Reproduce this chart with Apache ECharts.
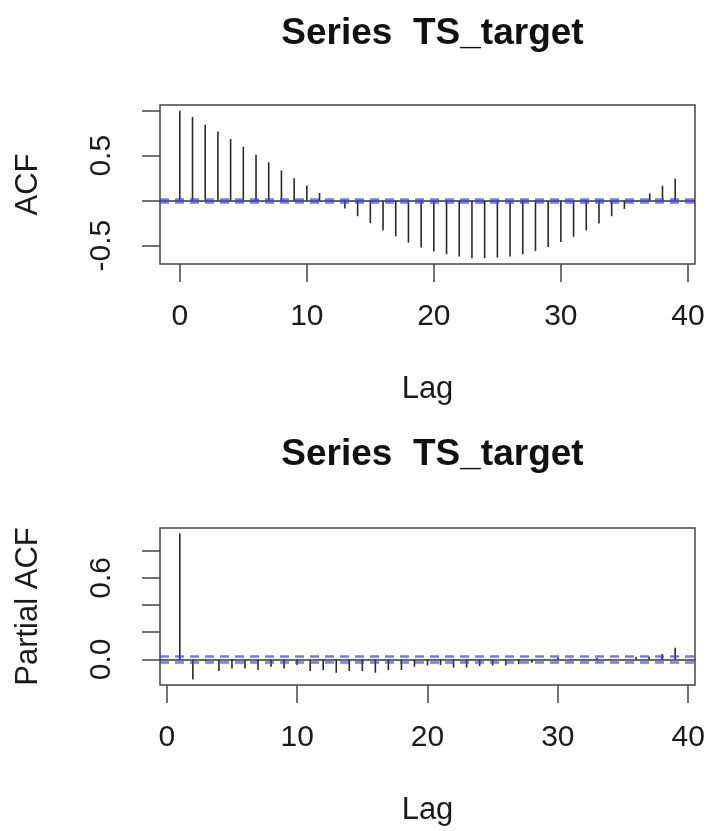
<!DOCTYPE html>
<html>
<head>
<meta charset="utf-8">
<script src="https://cdn.jsdelivr.net/npm/echarts@6/dist/echarts.min.js"></script>
<style>
  html, body { margin: 0; padding: 0; background: #ffffff; }
  #chart { width: 709px; height: 831px; }
</style>
</head>
<body>
<div id="chart"></div>
<script>
// ---- data ----
const chartTitle = 'Series  TS_target';
const acfLags = [0,1,2,3,4,5,6,7,8,9,10,11,12,13,14,15,16,17,18,19,20,21,22,23,24,25,26,27,28,29,30,31,32,33,34,35,36,37,38,39];
const acfValues = [1.0, 0.931, 0.846, 0.769, 0.688, 0.600, 0.511, 0.427, 0.338, 0.250,
  0.169, 0.085, 0.008, -0.088, -0.173, -0.250, -0.331, -0.397, -0.467, -0.522,
  -0.567, -0.596, -0.622, -0.640, -0.640, -0.633, -0.622, -0.596, -0.559, -0.515,
  -0.460, -0.401, -0.331, -0.254, -0.173, -0.092, -0.008, 0.081, 0.166, 0.247];
const pacfLags = [1,2,3,4,5,6,7,8,9,10,11,12,13,14,15,16,17,18,19,20,21,22,23,24,25,26,27,28,29,30,31,32,33,34,35,36,37,38,39];
const pacfValues = [0.925, -0.148, -0.012, -0.085, -0.066, -0.066, -0.078, -0.054, -0.066, -0.041,
  -0.085, -0.078, -0.098, -0.085, -0.085, -0.098, -0.078, -0.078, -0.054, -0.045,
  -0.041, -0.060, -0.060, -0.049, -0.045, -0.045, -0.035, -0.025, -0.005, 0.015,
  0.005, 0.003, 0.010, -0.005, 0.000, 0.020, 0.020, 0.040, 0.085];
const confBound = 0.018;
const xTicks = [0, 10, 20, 30, 40];
const acfYTicks = [-0.5, 0, 0.5, 1.0];
const acfYLabels = [-0.5, 0.5];
const pacfYTicks = [0, 0.2, 0.4, 0.6, 0.8];
const pacfYLabels = [0.0, 0.6];
const acfXRange = [-1.56, 40.56];
const acfYRange = [-0.705, 1.065];
const pacfXRange = [-0.52, 40.52];
const pacfYRange = [-0.188, 0.966];

// ---- styling ----
const FONT = "'Liberation Sans', Arial, Helvetica, sans-serif";
const TXT = '#1a1a1a';
const AX = '#444';
const CI_STYLE = { color: 'rgba(60,60,255,0.7)', width: 2.5, type: [9, 6] };

const chart = echarts.init(document.getElementById('chart'), null, { renderer: 'canvas' });

function spikeItem(params, api) {
  const x = api.value(0), v = api.value(1);
  const p0 = api.coord([x, 0]);
  const p1 = api.coord([x, v]);
  return { type: 'line', shape: { x1: p0[0], y1: p0[1], x2: p1[0], y2: p1[1] },
           style: { stroke: '#2a2a2a', lineWidth: 1.6 } };
}

function xAxisCfg(gridIndex, range) {
  return {
    type: 'value', gridIndex: gridIndex, min: range[0], max: range[1], position: 'bottom',
    name: 'Lag', nameLocation: 'middle', nameGap: 110,
    nameTextStyle: { fontFamily: FONT, fontSize: 31, color: TXT, lineHeight: 31 },
    axisLine: { show: false, onZero: false },
    axisTick: { show: true, inside: false, length: 18, customValues: xTicks, lineStyle: { color: AX, width: 1.5 } },
    axisLabel: { show: true, customValues: xTicks, margin: 38, fontFamily: FONT, fontSize: 30, lineHeight: 30, color: TXT },
    splitLine: { show: false }
  };
}

function yAxisCfg(gridIndex, range, ticks, labels, name) {
  return {
    type: 'value', gridIndex: gridIndex, min: range[0], max: range[1], position: 'left',
    name: name, nameLocation: 'middle', nameGap: 116, nameRotate: 90,
    nameTextStyle: { fontFamily: FONT, fontSize: 31, color: TXT, lineHeight: 31 },
    axisLine: { show: false, onZero: false },
    axisTick: { show: true, inside: false, length: 18, customValues: ticks, lineStyle: { color: AX, width: 1.5 } },
    axisLabel: { show: true, customValues: labels, rotate: 90, margin: 43, fontFamily: FONT, fontSize: 30, lineHeight: 30, color: TXT,
                 formatter: function (v) { return Number(v).toFixed(1); } },
    splitLine: { show: false }
  };
}

function refLines() {
  return {
    symbol: 'none', silent: true, animation: false,
    label: { show: false },
    data: [
      { yAxis: 0, lineStyle: { color: '#333', width: 1.5, type: 'solid' } },
      { yAxis: confBound, lineStyle: CI_STYLE },
      { yAxis: -confBound, lineStyle: CI_STYLE }
    ]
  };
}

const titleStyle = { fontFamily: FONT, fontSize: 37, fontWeight: 'bold', color: '#111', lineHeight: 37 };

chart.setOption({
  animation: false,
  backgroundColor: '#ffffff',
  title: [
    { text: chartTitle, left: 427.5, textAlign: 'center', top: 10, textStyle: titleStyle },
    { text: chartTitle, left: 427.5, textAlign: 'center', top: 431, textStyle: titleStyle }
  ],
  grid: [
    { left: 160, width: 535, top: 105, height: 159, show: true, borderColor: AX, borderWidth: 1.5, backgroundColor: 'transparent' },
    { left: 160, width: 535, top: 528, height: 157, show: true, borderColor: AX, borderWidth: 1.5, backgroundColor: 'transparent' }
  ],
  xAxis: [ xAxisCfg(0, acfXRange), xAxisCfg(1, pacfXRange) ],
  yAxis: [
    yAxisCfg(0, acfYRange, acfYTicks, acfYLabels, 'ACF'),
    yAxisCfg(1, pacfYRange, pacfYTicks, pacfYLabels, 'Partial ACF')
  ],
  series: [
    {
      type: 'custom', xAxisIndex: 0, yAxisIndex: 0,
      data: acfLags.map(function (l, i) { return [l, acfValues[i]]; }),
      renderItem: spikeItem,
      markLine: refLines()
    },
    {
      type: 'custom', xAxisIndex: 1, yAxisIndex: 1,
      data: pacfLags.map(function (l, i) { return [l, pacfValues[i]]; }),
      renderItem: spikeItem,
      markLine: refLines()
    }
  ]
});
</script>
</body>
</html>
